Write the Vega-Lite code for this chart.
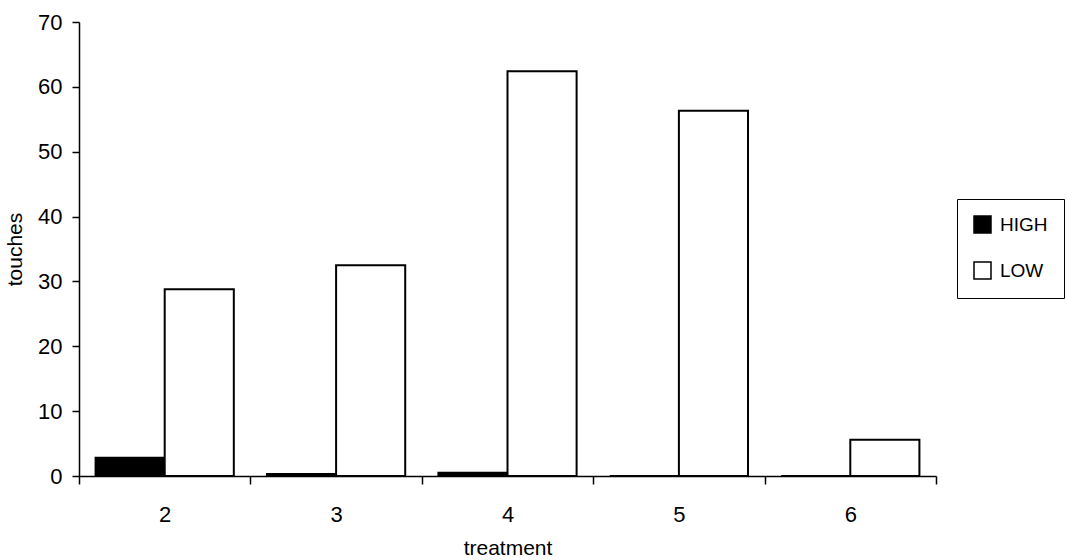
{
  "$schema": "https://vega.github.io/schema/vega-lite/v6.json",
  "autosize": "none",
  "width": 857,
  "height": 454,
  "padding": {"left": 79, "top": 22, "right": 131, "bottom": 84},
  "background": "white",
  "config": {
    "font": "Liberation Sans",
    "view": {"stroke": null},
    "axis": {"domainColor": "black", "tickColor": "black", "labelColor": "black", "titleColor": "black", "grid": false, "labelFont": "Liberation Sans", "titleFont": "Liberation Sans", "titleFontWeight": "normal"}
  },
  "data": {
    "values": [
      {"treatment": "2", "level": "HIGH", "touches": 2.8},
      {"treatment": "2", "level": "LOW", "touches": 28.8},
      {"treatment": "3", "level": "HIGH", "touches": 0.3},
      {"treatment": "3", "level": "LOW", "touches": 32.5},
      {"treatment": "4", "level": "HIGH", "touches": 0.5},
      {"treatment": "4", "level": "LOW", "touches": 62.4},
      {"treatment": "5", "level": "HIGH", "touches": 0},
      {"treatment": "5", "level": "LOW", "touches": 56.3},
      {"treatment": "6", "level": "HIGH", "touches": 0},
      {"treatment": "6", "level": "LOW", "touches": 5.6}
    ]
  },
  "mark": {"type": "bar", "stroke": "black", "strokeWidth": 2},
  "encoding": {
    "x": {
      "field": "treatment", "type": "nominal",
      "scale": {"paddingInner": 0, "paddingOuter": 0},
      "axis": {"title": "treatment", "orient": "bottom", "labelAngle": 0, "tickBand": "extent", "tickSize": 8, "tickWidth": 1.5, "domainWidth": 1.5, "labelPadding": 20, "labelFontSize": 22, "titleFontSize": 21, "titlePadding": 12}
    },
    "xOffset": {"field": "level", "type": "nominal", "scale": {"paddingInner": 0, "paddingOuter": 0.24}},
    "y": {
      "field": "touches", "type": "quantitative",
      "scale": {"domain": [0, 70], "nice": false},
      "axis": {"title": "touches", "orient": "left", "values": [0, 10, 20, 30, 40, 50, 60, 70], "tickSize": 7, "tickWidth": 1.5, "domainWidth": 1.5, "labelPadding": 10, "labelFontSize": 22, "titleFontSize": 21, "titlePadding": 12}
    },
    "fill": {
      "field": "level", "type": "nominal",
      "scale": {"domain": ["HIGH", "LOW"], "range": ["black", "white"]},
      "legend": {
        "title": null, "orient": "none", "legendX": 878, "legendY": 177,
        "strokeColor": "black", "padding": 16,
        "symbolType": "square", "symbolSize": 289, "symbolStrokeColor": "black", "symbolStrokeWidth": 1.5,
        "labelFontSize": 19, "labelColor": "black", "labelFont": "Liberation Sans", "rowPadding": 23, "labelOffset": 8
      }
    }
  }
}
